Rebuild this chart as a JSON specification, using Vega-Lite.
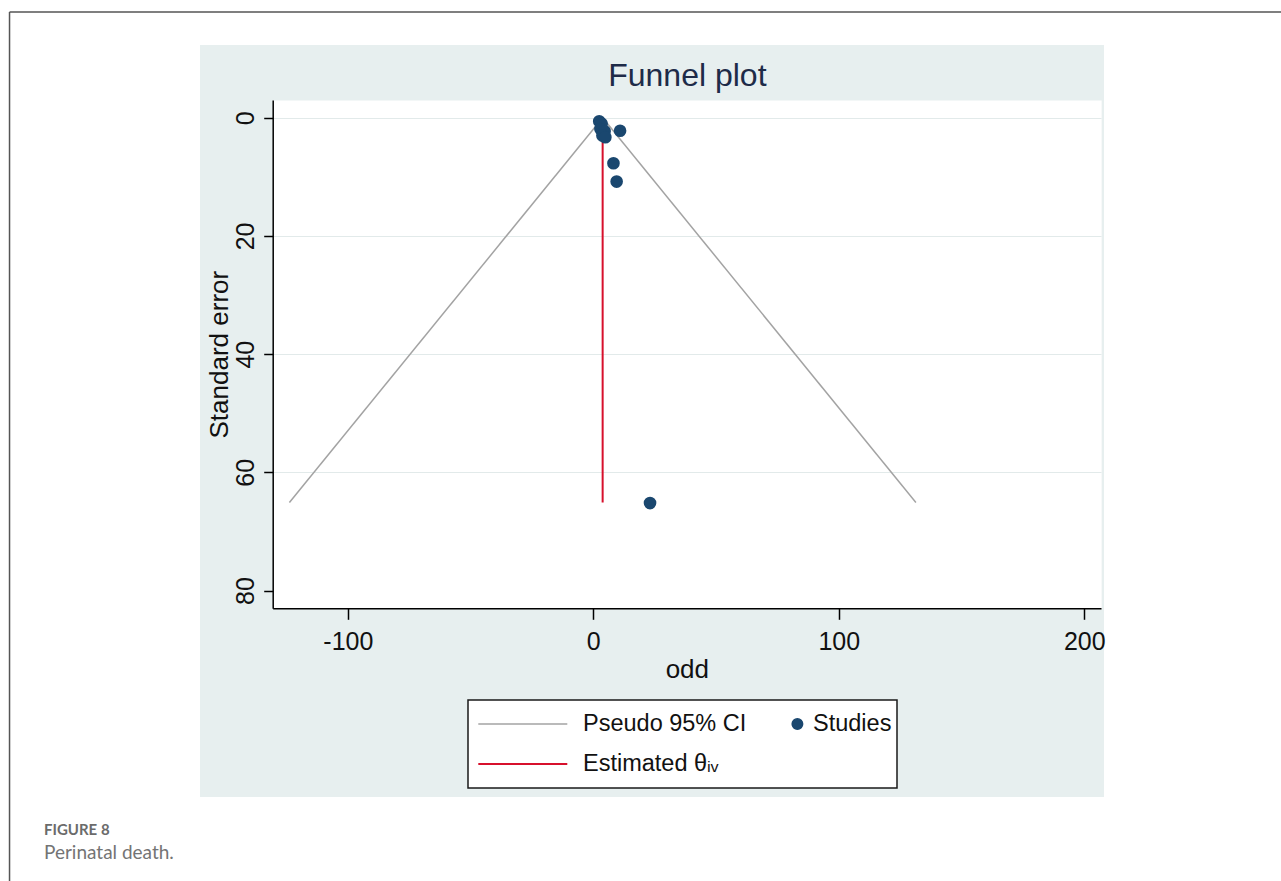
{
  "$schema": "https://vega.github.io/schema/vega-lite/v6.json",
  "width": 904,
  "height": 752,
  "autosize": {"type": "none"},
  "padding": {"left": 200, "top": 45, "right": 177, "bottom": 84},
  "background": "#ffffff",
  "title": {
    "text": "FIGURE 8",
    "subtitle": "Perinatal death.",
    "orient": "bottom",
    "anchor": "start",
    "frame": "group",
    "dx": -156,
    "offset": -64,
    "baseline": "top",
    "font": "Lato",
    "fontSize": 15,
    "fontWeight": 700,
    "color": "#6b6b6b",
    "subtitleFont": "Lato",
    "subtitleFontSize": 19,
    "subtitleColor": "#747474",
    "subtitlePadding": 6
  },
  "datasets": {
    "frame": [{"part": "page border"}],
    "funnel": [
      {"series": "Pseudo 95% CI", "side": "lower", "se": 0, "odd": 3.8},
      {"series": "Pseudo 95% CI", "side": "lower", "se": 65.1, "odd": -123.8},
      {"series": "Pseudo 95% CI", "side": "upper", "se": 0, "odd": 3.8},
      {"series": "Pseudo 95% CI", "side": "upper", "se": 65.1, "odd": 131.4}
    ],
    "estimate": [
      {"series": "Estimated θᵢᵥ", "odd": 3.8, "se_from": 0, "se_to": 65.1}
    ],
    "studies": [
      {"series": "Studies", "odd": 2.4, "se": 0.6},
      {"series": "Studies", "odd": 3.4, "se": 1.0},
      {"series": "Studies", "odd": 2.9, "se": 1.9},
      {"series": "Studies", "odd": 4.6, "se": 2.3},
      {"series": "Studies", "odd": 3.7, "se": 3.0},
      {"series": "Studies", "odd": 4.9, "se": 3.3},
      {"series": "Studies", "odd": 10.9, "se": 2.2},
      {"series": "Studies", "odd": 8.2, "se": 7.7},
      {"series": "Studies", "odd": 9.5, "se": 10.8},
      {"series": "Studies", "odd": 23.1, "se": 65.2}
    ]
  },
  "layer": [
    {
      "data": {"name": "frame"},
      "mark": {"type": "rule", "color": "#555555", "strokeWidth": 1.5},
      "encoding": {
        "x": {
          "datum": -237.8, "type": "quantitative",
          "scale": {"domain": [-130.6, 206.8], "range": [72.7, 901], "nice": false, "zero": false},
          "axis": {
            "orient": "top", "offset": -55, "title": "Funnel plot",
            "labels": false, "ticks": false, "domain": false,
            "grid": true, "values": [38.1], "gridColor": "#ffffff", "gridWidth": 828.3, "gridOpacity": 1,
            "titleFontSize": 32, "titleColor": "#1e2b48", "titleFontWeight": "normal",
            "titleBaseline": "alphabetic", "titlePadding": 15, "minExtent": 0, "maxExtent": 0
          }
        },
        "x2": {"datum": 284},
        "y": {
          "datum": -17.88, "type": "quantitative",
          "scale": {"domain": [-3, 83], "range": [55, 563.3], "nice": false, "zero": false},
          "axis": null
        }
      }
    },
    {
      "data": {"name": "frame"},
      "mark": {"type": "rule", "color": "#555555", "strokeWidth": 1.5},
      "encoding": {
        "x": {"datum": -237.8, "type": "quantitative", "axis": null},
        "y": {"datum": -17.88, "type": "quantitative", "axis": null},
        "y2": {"datum": 130}
      }
    },
    {
      "data": {"name": "funnel"},
      "mark": {"type": "line", "strokeWidth": 1.5},
      "encoding": {
        "x": {
          "field": "odd", "type": "quantitative",
          "scale": {"domain": [-130.6, 206.8], "range": [72.7, 901], "nice": false, "zero": false},
          "axis": {
            "orient": "bottom", "offset": -188.7, "title": "odd",
            "values": [-100, 0, 100, 200], "grid": false,
            "labelExpr": "'' + datum.value",
            "tickSize": 11, "tickWidth": 1.5, "domainWidth": 1.5,
            "labelFontSize": 25, "labelPadding": 10.5, "labelFlush": false, "labelOverlap": false,
            "titleFontSize": 26, "titleBaseline": "alphabetic", "titlePadding": 23
          }
        },
        "y": {
          "field": "se", "type": "quantitative",
          "scale": {"domain": [-3, 83], "range": [55, 563.3], "nice": false, "zero": false},
          "axis": {
            "orient": "left", "offset": -72.7, "title": "Standard error",
            "values": [0, 20, 40, 60, 80],
            "grid": true,
            "gridColor": {"condition": {"test": "datum.value === 80", "value": "transparent"}, "value": "#e2eaea"},
            "gridWidth": 1.2,
            "tickSize": 9, "tickWidth": 1.5, "domainWidth": 1.5,
            "labelAngle": -90, "labelAlign": "center", "labelBaseline": "bottom",
            "labelFontSize": 25, "labelPadding": 5, "labelFlush": false, "labelOverlap": false,
            "titleFontSize": 26, "titleBaseline": "alphabetic", "titlePadding": 6.5
          }
        },
        "detail": {"field": "side"},
        "order": {"field": "se"},
        "color": {
          "field": "series", "type": "nominal",
          "scale": {"domain": ["Pseudo 95% CI", "Estimated θᵢᵥ", "Studies"], "range": ["#a3a3a3", "#d7102c", "#1a476f"]},
          "legend": {
            "orient": "none", "legendX": 268, "legendY": 655, "direction": "vertical",
            "title": null, "columns": 2, "columnPadding": 40, "rowPadding": 2, "clipHeight": 38,
            "padding": 5, "fillColor": "#ffffff", "strokeColor": "#1a1a1a",
            "labelFont": "Liberation Sans", "labelFontSize": 23.5, "labelColor": "#111111", "labelLimit": 400,
            "labelOffset": 19,
            "symbolSize": 7921, "symbolStrokeWidth": 1.5, "symbolOffset": 5.3, "symbolType": "stroke",
            "encoding": {
              "legend": {"strokeWidth": {"value": 1.5}},
              "symbols": {
                "shape": {"value": {"expr": "datum.index === 2 ? 'circle' : 'stroke'"}},
                "size": {"value": {"expr": "datum.index === 2 ? 110 : 7921"}},
                "x": {"value": {"expr": "datum.index === 2 ? 10.4 : 49.8"}},
                "fill": {"value": {"expr": "datum.index === 2 ? '#1a476f' : 'transparent'"}},
                "stroke": {"value": {"expr": "datum.index === 0 ? '#a3a3a3' : (datum.index === 1 ? '#d7102c' : '#1a476f')"}},
                "strokeWidth": {"value": {"expr": "datum.index === 1 ? 2 : 1.5"}},
                "opacity": {"value": 1}
              },
              "labels": {
                "x": {"value": {"expr": "datum.index === 2 ? 26 : 110"}}
              }
            }
          }
        }
      }
    },
    {
      "data": {"name": "estimate"},
      "mark": {"type": "rule", "strokeWidth": 2},
      "encoding": {
        "x": {"field": "odd", "type": "quantitative", "axis": null},
        "y": {"field": "se_from", "type": "quantitative", "axis": null},
        "y2": {"field": "se_to"},
        "color": {
          "field": "series", "type": "nominal",
          "scale": {"domain": ["Pseudo 95% CI", "Estimated θᵢᵥ", "Studies"], "range": ["#a3a3a3", "#d7102c", "#1a476f"]}
        }
      }
    },
    {
      "data": {"name": "studies"},
      "mark": {"type": "point", "filled": true, "size": 160, "opacity": 1},
      "encoding": {
        "x": {"field": "odd", "type": "quantitative", "axis": null},
        "y": {"field": "se", "type": "quantitative", "axis": null},
        "color": {
          "field": "series", "type": "nominal",
          "scale": {"domain": ["Pseudo 95% CI", "Estimated θᵢᵥ", "Studies"], "range": ["#a3a3a3", "#d7102c", "#1a476f"]}
        }
      }
    }
  ],
  "resolve": {"axis": {"x": "independent", "y": "independent"}},
  "config": {
    "view": {"fill": "#e7efef", "stroke": null},
    "axis": {
      "labelFont": "Liberation Sans",
      "titleFont": "Liberation Sans",
      "labelColor": "#111111",
      "titleColor": "#111111",
      "titleFontWeight": "normal",
      "domainColor": "#000000",
      "tickColor": "#000000"
    }
  }
}
